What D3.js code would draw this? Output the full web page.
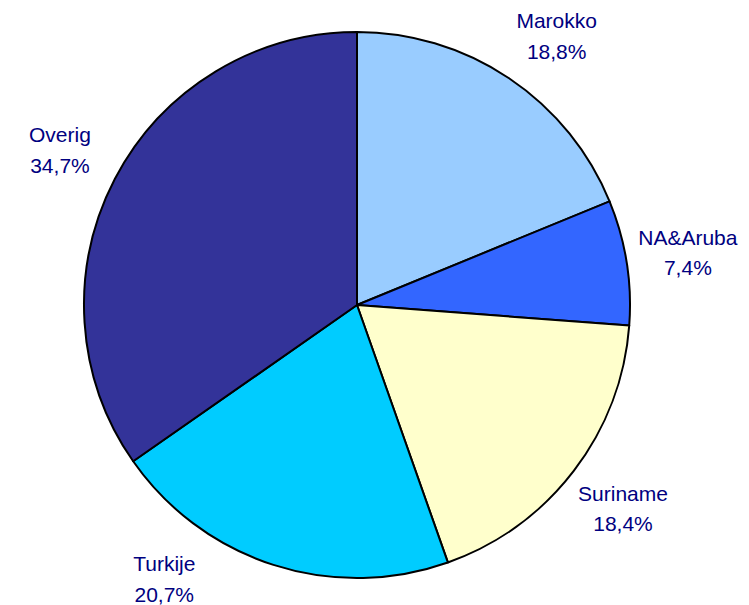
<!DOCTYPE html>
<html lang="nl">
<head>
    <meta charset="UTF-8">
    <title>Herkomst</title>
    <script src="https://cdn.jsdelivr.net/npm/d3@7"></script>
    <style>
        * { padding: 0; margin: 0; }
        body { background: #ffffff; }
        #grafico { width: 749px; height: 605px; }
    </style>
</head>
<body>
<div id="grafico"></div>
<script>
    // data (aandelen in procenten), met de klok mee vanaf 12 uur
    var landen = ["Marokko", "NA&Aruba", "Suriname", "Turkije", "Overig"];
    var aandelen = [18.8, 7.4, 18.4, 20.7, 34.7];
    var kleuren = ["#99ccff", "#3366ff", "#ffffcc", "#00ccff", "#333399"];

    var w = 749;
    var h = 605;
    var cx = 357;
    var cy = 305;
    var radius = 273;
    var labelRadius = 335;
    var topLimit = 36;
    var bottomLimit = 579;

    var svg = d3.select("#grafico")
        .append("svg")
        .attr("width", w)
        .attr("height", h);

    var pie = d3.pie().sort(null).value(function(d) { return d; });
    var arcs = pie(aandelen);

    var arc = d3.arc().innerRadius(0).outerRadius(radius);

    var g = svg.append("g").attr("transform", "translate(" + cx + "," + cy + ")");

    g.selectAll("path")
        .data(arcs)
        .enter()
        .append("path")
        .attr("d", arc)
        .attr("fill", function(d, i) { return kleuren[i]; })
        .attr("stroke", "#000")
        .attr("stroke-width", 2)
        .attr("stroke-linejoin", "round");

    // labels op een cirkel rond de taart; boven en onder schuiven ze langs de cirkel
    function labelPos(d) {
        var a = (d.startAngle + d.endAngle) / 2;
        var x = labelRadius * Math.sin(a);
        var y = -labelRadius * Math.cos(a);
        var minY = topLimit - cy, maxY = bottomLimit - cy;
        if (y < minY || y > maxY) {
            y = y < minY ? minY : maxY;
            x = (x < 0 ? -1 : 1) * Math.sqrt(labelRadius * labelRadius - y * y);
        }
        return [x, y];
    }

    var labels = g.selectAll("text")
        .data(arcs)
        .enter()
        .append("text")
        .attr("text-anchor", "middle")
        .attr("font-family", "Liberation Sans, Arial, sans-serif")
        .attr("font-size", "21px")
        .attr("fill", "#000080");

    labels.append("tspan")
        .attr("x", function(d) { return labelPos(d)[0]; })
        .attr("y", function(d) { return labelPos(d)[1] - 8; })
        .text(function(d, i) { return landen[i]; });

    labels.append("tspan")
        .attr("x", function(d) { return labelPos(d)[0]; })
        .attr("y", function(d) { return labelPos(d)[1] + 22.5; })
        .text(function(d, i) { return d3.format(".1f")(aandelen[i]).replace(".", ",") + "%"; });
</script>
</body>
</html>
